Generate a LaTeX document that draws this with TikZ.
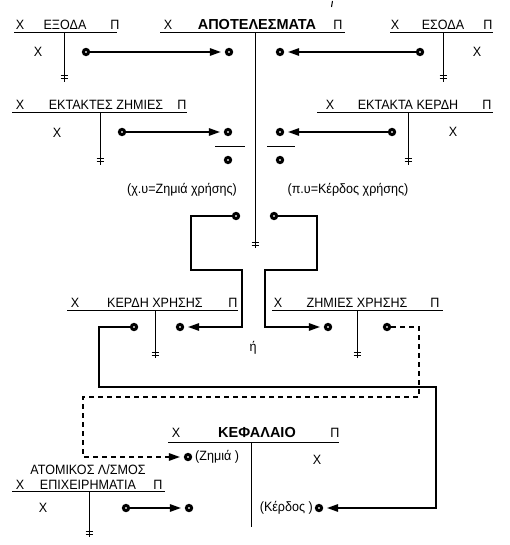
\documentclass[tikz,border=0pt]{standalone}
\usepackage{fontspec}
\setmainfont{Liberation Sans}
\newfontfamily\plainf{Liberation Sans}[FakeStretch=0.93]
\usetikzlibrary{arrows.meta}
\newcommand{\tstem}[3]{%
  \draw[tline] (#1,#2) -- (#1,#3);
  \draw[tline] ({#1-3.5},{#3-6}) -- ({#1+3.5},{#3-6});
  \draw[tline] ({#1-3.5},{#3-3}) -- ({#1+3.5},{#3-3});
}
\begin{document}
\begin{tikzpicture}[x=1pt,y=-1pt,
  tline/.style={line width=1pt},
  conn/.style={line width=1.4pt},
  arr/.style={conn,-{Triangle[length=11pt,width=7.5pt]},shorten >=4pt},
  dotn/.style={circle,draw,line width=3pt,fill=white,inner sep=0pt,minimum size=5.2pt},
  lbl/.style={font=\plainf\fontsize{13.5}{15}\selectfont,inner sep=0pt},
  ttl/.style={lbl,anchor=base},
  bttl/.style={ttl,font=\fontsize{14.5}{16}\selectfont\bfseries},
  dashline/.style={conn,dash pattern=on 5pt off 4pt}
]
\useasboundingbox (0,0) rectangle (510,545);

% stray mark
\draw[line width=1pt] (332.5,1) -- (331.5,7);

% ---------- ΕΞΟΔΑ ----------
\draw[tline] (14,33) -- (117,33);
\node[ttl] (exX) at (20,30) {Χ};
\node[ttl] (exT) at (65,30) {ΕΞΟΔΑ};
\node[ttl] (exP) at (115,30) {Π};
\tstem{64}{33}{82}
\node[lbl] (exB) at (38,52) {Χ};
\node[dotn] (d1) at (86,52) {};

% ---------- ΑΠΟΤΕΛΕΣΜΑΤΑ ----------
\draw[tline] (160,33) -- (345,33);
\node[ttl] (apX) at (168,30) {Χ};
\node[bttl] (apT) at (257,30) {ΑΠΟΤΕΛΕΣΜΑΤΑ};
\node[ttl] (apP) at (338,30) {Π};
\tstem{255}{33}{248}
\node[dotn] (d2) at (229,52) {};
\node[dotn] (d3) at (280,52) {};

% ---------- ΕΣΟΔΑ ----------
\draw[tline] (390,33) -- (493,33);
\node[ttl] (esX) at (395,30) {Χ};
\node[ttl] (esT) at (443,30) {ΕΣΟΔΑ};
\node[ttl] (esP) at (488,30) {Π};
\tstem{443}{33}{82}
\node[lbl] (esB) at (477,52) {Χ};
\node[dotn] (d4) at (420,52) {};

\draw[arr] (d1) -- (d2);
\draw[arr] (d4) -- (d3);

% ---------- ΕΚΤΑΚΤΕΣ ΖΗΜΙΕΣ ----------
\draw[tline] (12,113) -- (187,113);
\node[ttl] (ezX) at (20,110) {Χ};
\node[ttl] (ezT) at (106,110) {ΕΚΤΑΚΤΕΣ ΖΗΜΙΕΣ};
\node[ttl] (ezP) at (182,110) {Π};
\tstem{100}{113}{165}
\node[lbl] (ezB) at (57,133) {Χ};
\node[dotn] (d5) at (122,132) {};
\node[dotn] (d6) at (228,132) {};
\draw[tline] (215,147) -- (245,147);
\node[dotn] (d7) at (228,160) {};
\draw[arr] (d5) -- (d6);

% ---------- ΕΚΤΑΚΤΑ ΚΕΡΔΗ ----------
\draw[tline] (317,113) -- (493,113);
\node[ttl] (ekX) at (330,110) {Χ};
\node[ttl] (ekT) at (408,110) {ΕΚΤΑΚΤΑ ΚΕΡΔΗ};
\node[ttl] (ekP) at (487,110) {Π};
\tstem{408}{113}{165}
\node[lbl] (ekB) at (453,132) {Χ};
\node[dotn] (d8) at (392,132) {};
\node[dotn] (d9) at (280,132) {};
\draw[tline] (267,147) -- (295,147);
\node[dotn] (d10) at (280,160) {};
\draw[arr] (d8) -- (d9);

\node[lbl] (zx) at (182,190) {(χ.υ=Ζημιά χρήσης)};
\node[lbl] (kx) at (348,190) {(π.υ=Κέρδος χρήσης)};

% ---------- ΚΕΡΔΗ ΧΡΗΣΗΣ ----------
\draw[tline] (67,310) -- (238,310);
\node[ttl] (kxX) at (75,307) {Χ};
\node[ttl] (kxT) at (155,307) {ΚΕΡΔΗ ΧΡΗΣΗΣ};
\node[ttl] (kxP) at (233,307) {Π};
\tstem{155}{310}{358}
\node[dotn] (d15) at (134,327) {};
\node[dotn] (d13) at (180,327) {};

% ---------- ΖΗΜΙΕΣ ΧΡΗΣΗΣ ----------
\draw[tline] (272,310) -- (443,310);
\node[ttl] (zxX) at (278,307) {Χ};
\node[ttl] (zxT) at (357,307) {ΖΗΜΙΕΣ ΧΡΗΣΗΣ};
\node[ttl] (zxP) at (435,307) {Π};
\tstem{357}{310}{358}
\node[dotn] (d14) at (328,327) {};
\node[dotn] (d16) at (387,327) {};

\node[lbl] (or) at (253,348) {ή};

% transfers from ΑΠΟΤΕΛΕΣΜΑΤΑ
\node[dotn] (d11) at (236,216) {};
\node[dotn] (d12) at (274,216) {};
\draw[arr] (d11) -- (191,216) -- (191,270) -- (242,270) -- (242,327) -- (d13);
\draw[arr] (d12) -- (317,216) -- (317,270) -- (265,270) -- (265,327) -- (d14);

% ---------- ΚΕΦΑΛΑΙΟ ----------
\draw[tline] (168,442) -- (339,442);
\node[ttl] (kfX) at (176,437) {Χ};
\node[bttl] (kfT) at (257,437) {ΚΕΦΑΛΑΙΟ};
\node[ttl] (kfP) at (335,437) {Π};
\draw[tline] (251,442) -- (251,527);
\node[lbl] (kfB) at (317,460) {Χ};
\node[dotn] (d18) at (188,457) {};
\node[lbl,anchor=west] (zl) at (195,457) {(Ζημιά )};
\node[dotn] (d17) at (319,508) {};
\node[lbl,anchor=east] (kl) at (313,508) {(Κέρδος )};

\draw[arr] (d15) -- (99,327) -- (99,387) -- (436,387) -- (436,508) -- (d17);
\draw[dashline,-{Triangle[length=11pt,width=7.5pt]},shorten >=4pt]
  (d16) -- (419,327) -- (419,397) -- (83,397) -- (83,457) -- (d18);

% ---------- ΑΤΟΜΙΚΟΣ Λ/ΣΜΟΣ ΕΠΙΧΕΙΡΗΜΑΤΙΑ ----------
\draw[tline] (12,491) -- (165,491);
\node[ttl] (atT1) at (88,474) {ΑΤΟΜΙΚΟΣ Λ/ΣΜΟΣ};
\node[ttl] (atT2) at (88,489) {ΕΠΙΧΕΙΡΗΜΑΤΙΑ};
\node[ttl] (atX) at (20,489) {Χ};
\node[ttl] (atP) at (158,489) {Π};
\tstem{89}{491}{537}
\node[lbl] (atB) at (43,508) {Χ};
\node[dotn] (d19) at (126,508) {};
\node[dotn] (d20) at (189,508) {};
\draw[arr] (d19) -- (d20);
\end{tikzpicture}
\end{document}
